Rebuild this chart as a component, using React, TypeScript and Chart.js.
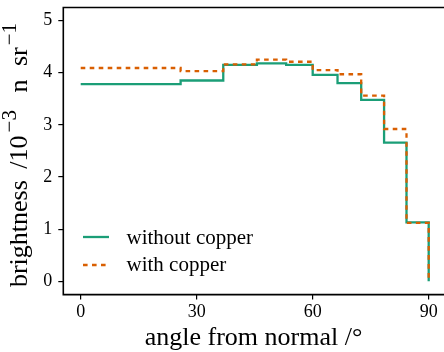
import React, { useEffect, useRef } from "react";
import { Chart, registerables } from "chart.js";

Chart.register(...registerables);

// Bin edges (angle from normal, degrees)
const angleEdges = [0, 25.84, 36.87, 45.57, 53.13, 60, 66.42, 72.54, 78.46, 84.26, 90];
// Brightness values (10^-3 n sr^-1); last value closes the step at 90°
const withoutCopper = [3.78, 3.85, 4.15, 4.18, 4.15, 3.96, 3.8, 3.48, 2.66, 1.13, 0];
const withCopper = [4.09, 4.03, 4.16, 4.25, 4.21, 4.05, 3.97, 3.56, 2.92, 1.12, 0];
const xTicks = [0, 30, 60, 90];
const yTicks = [0, 1, 2, 3, 4, 5];
const seriesLabels = ["without copper", "with copper"];

const SERIF = '"Liberation Serif", "DejaVu Serif", "Times New Roman", serif';
const GREEN = "#1b9e77";
const ORANGE = "#d95f02";
const CANVAS_W = 470;

const decorPlugin = {
  id: "decor",
  afterDraw(chart: any) {
    const { ctx, chartArea: a } = chart;
    ctx.save();
    // frame (right side lies beyond the visible page, as in the reference)
    ctx.strokeStyle = "#000";
    ctx.lineWidth = 1.6;
    ctx.beginPath();
    ctx.moveTo(a.right + 2, a.top);
    ctx.lineTo(a.left, a.top);
    ctx.lineTo(a.left, a.bottom);
    ctx.lineTo(a.right + 2, a.bottom);
    ctx.stroke();

    // legend
    const ds = chart.data.datasets;
    const legendRows = [
      { y: 237, base: 243.5 },
      { y: 265, base: 271 },
    ];
    ds.forEach((d: any, i: number) => {
      const r = legendRows[i];
      ctx.save();
      ctx.strokeStyle = d.borderColor;
      ctx.lineWidth = d.borderWidth;
      ctx.lineCap = "butt";
      ctx.setLineDash(d.borderDash || []);
      ctx.beginPath();
      ctx.moveTo(83, r.y);
      ctx.lineTo(109, r.y);
      ctx.stroke();
      ctx.restore();
      ctx.fillStyle = "#000";
      ctx.font = `21px ${SERIF}`;
      ctx.textBaseline = "alphabetic";
      ctx.textAlign = "left";
      ctx.fillText(d.label, 126.5, r.base);
    });

    // x title
    ctx.fillStyle = "#000";
    ctx.font = `26px ${SERIF}`;
    ctx.textAlign = "center";
    ctx.textBaseline = "alphabetic";
    ctx.fillText("angle from normal /°", 253.5, 345);

    // y title with superscripts (text, size, raise, extra gap before)
    const segs = [
      { t: "brightness", s: 26, r: 0, g: 0 },
      { t: " /10", s: 26, r: 0, g: 5 },
      { t: "\u22123", s: 21, r: 11, g: 3 },
      { t: " n", s: 26, r: 0, g: 11 },
      { t: " sr", s: 26, r: 0, g: 7 },
      { t: "\u22121", s: 21, r: 11, g: 2 },
    ];
    let total = 0;
    segs.forEach((sg) => {
      ctx.font = `${sg.s}px ${SERIF}`;
      total += sg.g + ctx.measureText(sg.t).width;
    });
    ctx.translate(26.5, 155);
    ctx.rotate(-Math.PI / 2);
    ctx.textAlign = "left";
    let x = -total / 2;
    segs.forEach((sg) => {
      ctx.font = `${sg.s}px ${SERIF}`;
      x += sg.g;
      ctx.fillText(sg.t, x, -sg.r);
      x += ctx.measureText(sg.t).width;
    });
    ctx.restore();
  },
};

export default function App() {
  const ref = useRef<HTMLCanvasElement>(null);
  useEffect(() => {
    document.body.style.margin = "0";
    const canvas = ref.current!;
    const mk = (vals: number[]) => angleEdges.map((x, i) => ({ x, y: vals[i] }));
    const chart = new Chart(canvas, {
      type: "line",
      data: {
        datasets: [
          {
            label: seriesLabels[0],
            data: mk(withoutCopper),
            borderColor: GREEN,
            backgroundColor: GREEN,
            borderWidth: 2.3,
            pointRadius: 0,
            stepped: "before",
            fill: false,
            order: 2,
          },
          {
            label: seriesLabels[1],
            data: mk(withCopper),
            borderColor: ORANGE,
            backgroundColor: ORANGE,
            borderWidth: 2.3,
            borderDash: [4.6, 4.4],
            borderCapStyle: "butt",
            pointRadius: 0,
            stepped: "before",
            fill: false,
            order: 1,
          },
        ],
      },
      options: {
        responsive: false,
        animation: false,
        devicePixelRatio: 1,
        layout: { padding: { left: 0, top: 7.5, right: CANVAS_W - 446.1, bottom: 0 } },
        plugins: { legend: { display: false }, tooltip: { enabled: false } },
        scales: {
          x: {
            type: "linear",
            min: -4.5,
            max: 94.5,
            afterBuildTicks: (s: any) => {
              s.ticks = xTicks.map((v) => ({ value: v }));
            },
            afterFit: (s: any) => {
              s.height = 57.4;
              s.paddingLeft = 0;
              s.paddingRight = 0;
              s.paddingTop = 0;
              s.paddingBottom = 0;
            },
            border: { display: false },
            grid: {
              drawOnChartArea: false,
              drawTicks: true,
              tickLength: 5,
              color: "#000",
              lineWidth: 1.2,
            },
            ticks: {
              color: "#000",
              font: { family: SERIF, size: 18 },
              padding: 2,
              maxRotation: 0,
              autoSkip: false,
            },
          },
          y: {
            type: "linear",
            min: -0.255,
            max: 5.25,
            afterBuildTicks: (s: any) => {
              s.ticks = yTicks.map((v) => ({ value: v }));
            },
            afterFit: (s: any) => {
              s.width = 63.3;
              s.paddingLeft = 0;
              s.paddingRight = 0;
              s.paddingTop = 0;
              s.paddingBottom = 0;
            },
            border: { display: false },
            grid: {
              drawOnChartArea: false,
              drawTicks: true,
              tickLength: 5,
              color: "#000",
              lineWidth: 1.2,
            },
            ticks: {
              color: "#000",
              font: { family: SERIF, size: 18 },
              padding: 6,
              autoSkip: false,
            },
          },
        },
      },
      plugins: [decorPlugin],
    } as any);
    return () => chart.destroy();
  }, []);
  return (
    <div style={{ position: "fixed", left: 0, top: 0, width: 444, height: 352, overflow: "hidden" }}>
      <canvas ref={ref} width={CANVAS_W} height={352} style={{ display: "block", width: CANVAS_W, height: 352 }} />
    </div>
  );
}
